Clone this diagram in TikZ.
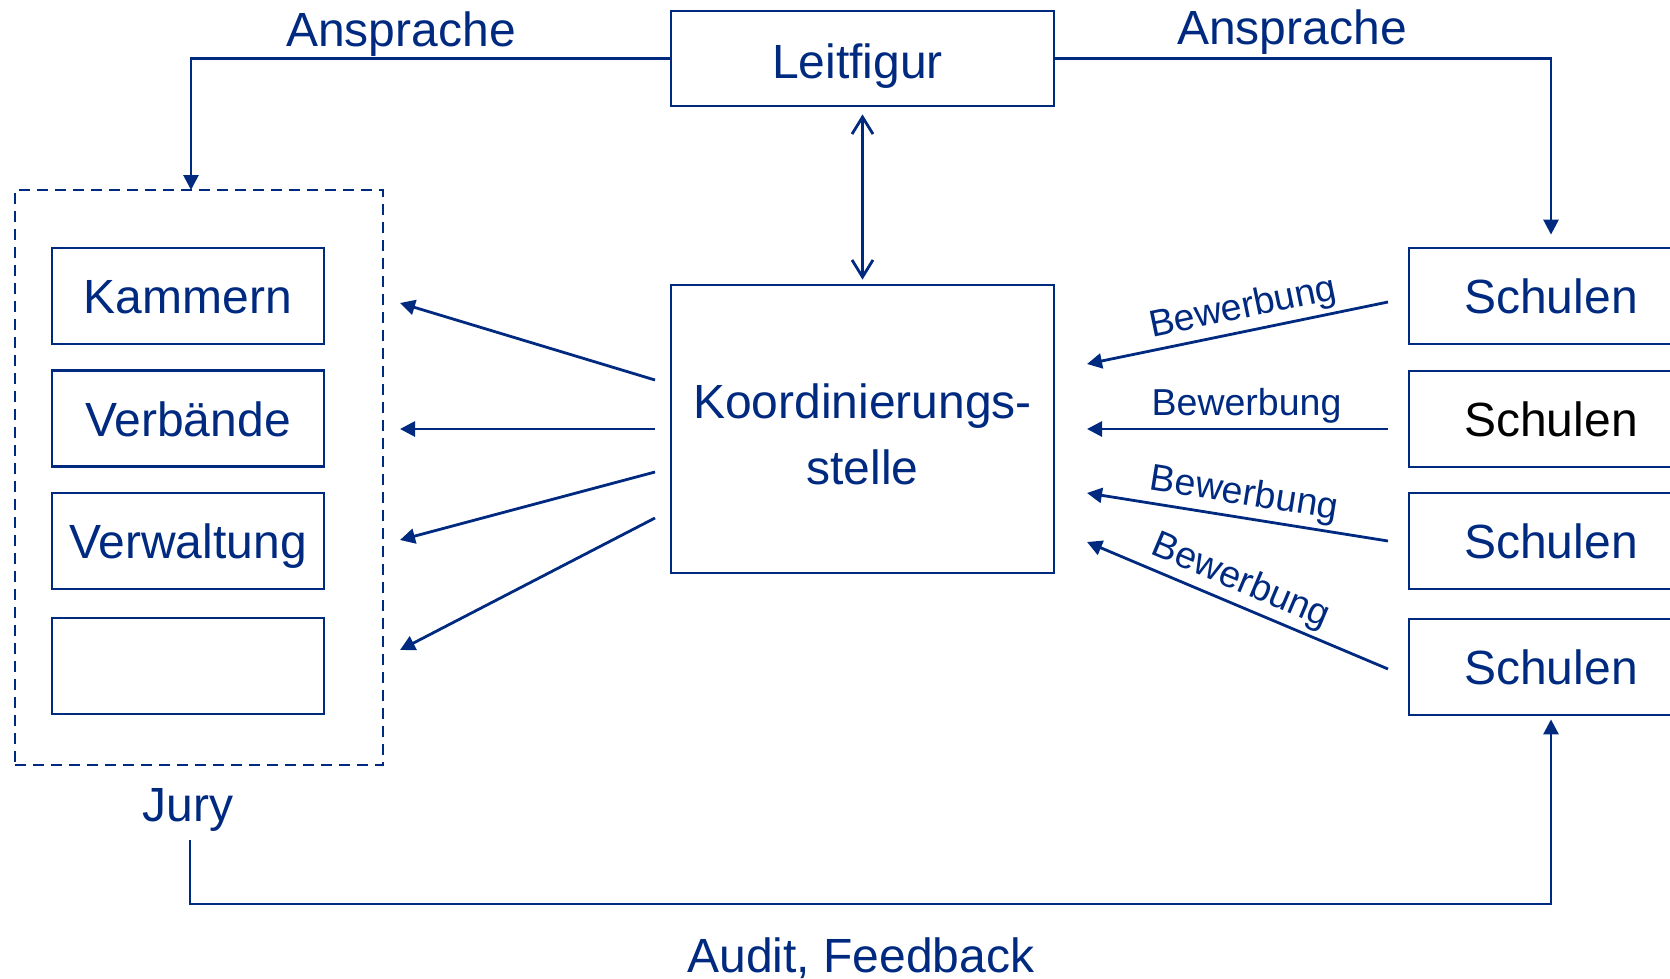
\documentclass[tikz,border=0pt]{standalone}
\usepackage{fontspec}
\setmainfont{Liberation Sans}
\usetikzlibrary{arrows.meta}
\definecolor{navy}{RGB}{0,41,128}
\begin{document}
\begin{tikzpicture}[x=1pt,y=-1pt,
  every node/.style={text=navy, font=\fontsize{48}{58}\selectfont},
  box/.style={draw=navy, line width=2.8pt, minimum width=272pt, minimum height=96pt,
    inner sep=0pt, text height=35pt, text depth=0pt},
  conn/.style={draw=navy, line width=2.8pt},
  tri/.style={-{Triangle[length=15pt,width=15pt]}},
  barb/.style={{Straight Barb[length=17pt,width=21pt,line width=2.8pt]}-{Straight Barb[length=17pt,width=21pt,line width=2.8pt]}},
  lab/.style={font=\fontsize{37.5}{40}\selectfont, sloped, above, inner sep=4pt}
]
\useasboundingbox (0,0) rectangle (1670,979);

% boxes
\node[box, minimum width=383pt, minimum height=95pt, text height=41pt] (leit) at (862.5,58.5) {Leitfigur\kern10pt};
\node[draw=navy, line width=2.8pt, minimum width=383pt, minimum height=288pt,
  inner sep=0pt, align=center, font=\fontsize{48}{66}\selectfont] (koord) at (862.5,429)
  {\rule{0pt}{46pt}Koordinierungs-\\stelle};

\node[draw=navy, line width=2.8pt, dash pattern=on 11pt off 7pt,
  minimum width=368pt, minimum height=575pt, inner sep=0pt] (jury) at (199,477.5) {};
\node[box] (kam) at (188,296) {Kammern};
\node[box] (verb) at (188,418.5) {Verbände};
\node[box] (verw) at (188,541) {Verwaltung};
\node[box] (leer) at (188,666) {};

\node[box, minimum width=284pt] (s1) at (1551,296) {Schulen};
\node[box, minimum width=284pt, text=black] (s2) at (1551,419) {Schulen};
\node[box, minimum width=284pt] (s3) at (1551,541) {Schulen};
\node[box, minimum width=284pt] (s4) at (1551,667) {Schulen};

% labels
\node[anchor=base] (ans1) at (401,47) {Ansprache};
\node[anchor=base] (ans2) at (1292,45) {Ansprache};
\node[anchor=base] (jurylab) at (188,821) {Jury};
\node[anchor=base] (audit) at (861,972) {Audit, Feedback};

% coordinates for free ends
\coordinate (juryin) at (191,190);
\coordinate (auditstart) at (190,840);
\coordinate (auditcorner) at (190,904);

\coordinate (k1) at (655,380); \coordinate (j1) at (400,303);
\coordinate (k2) at (655,429); \coordinate (j2) at (400,429);
\coordinate (k3) at (655,472); \coordinate (j3) at (400,540);
\coordinate (k4) at (655,518); \coordinate (j4) at (400,650);

\coordinate (b1) at (1388,302); \coordinate (c1) at (1087,364);
\coordinate (b2) at (1388,429); \coordinate (c2) at (1087,429);
\coordinate (b3) at (1388,541); \coordinate (c3) at (1087,493);
\coordinate (b4) at (1388,669); \coordinate (c4) at (1087,542);

% connectors
\draw[conn, tri] (leit.west) -| (juryin);
\draw[conn, tri, shorten >=12pt] (leit.east) -| (s1.north);
\draw[conn, barb, shorten <=7pt, shorten >=4pt] (leit.south) -- (koord.north);

\draw[conn, tri] (k1) -- (j1);
\draw[conn, tri] (k2) -- (j2);
\draw[conn, tri] (k3) -- (j3);
\draw[conn, tri] (k4) -- (j4);

\draw[conn, tri] (b1) -- node[lab, pos=0.465] {Bewerbung} (c1);
\draw[conn, tri] (b2) -- node[lab, pos=0.47] {Bewerbung} (c2);
\draw[conn, tri] (b3) -- node[lab, pos=0.49] {Bewerbung} (c3);
\draw[conn, tri] (b4) -- node[lab, pos=0.52] {Bewerbung} (c4);

\draw[conn, tri, shorten >=3pt] (auditstart) -- (auditcorner) -| (s4.south);
\end{tikzpicture}
\end{document}
